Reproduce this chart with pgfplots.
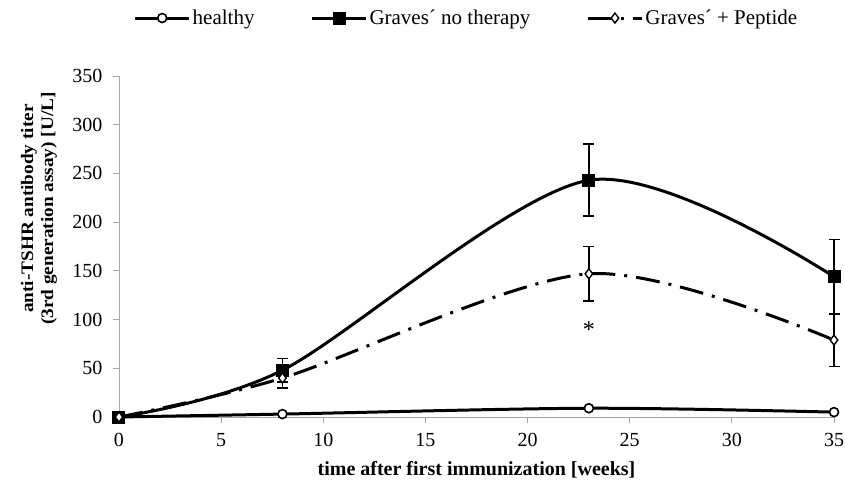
\documentclass[border=0pt]{standalone}
\usepackage{pgfplots}
\pgfplotsset{compat=1.18}
\usepackage{fontspec}
\setmainfont{Liberation Serif}
\newfontfamily\ylfont{Liberation Serif}[FakeStretch=1.1]
\begin{document}
\begin{tikzpicture}
\useasboundingbox (-119pt,-65pt) rectangle (726pt,417pt);
\begin{axis}[
  at={(0,0)}, anchor=south west,
  scale only axis, width=715pt, height=341pt,
  xmin=0, xmax=35, ymin=0, ymax=350,
  xtick={0,5,...,35}, ytick={0,50,...,350},
  axis x line*=bottom, axis y line*=left,
  axis line style={gray!70, line width=0.8pt},
  tick style={gray!70, line width=0.8pt},
  tick align=outside, major tick length=6pt,
  /pgf/number format/assume math mode=true,
  ticklabel style={font=\fontsize{20}{22}\selectfont},
  xticklabel style={yshift=-7pt},
  yticklabel style={xshift=-7pt},
  clip=false,
  xlabel={\textbf{time after first immunization [weeks]}},
  every axis x label/.style={at={(rel axis cs:0.5,0)}, yshift=-53pt, anchor=center,
    font=\fontsize{20}{22}\selectfont},
  ylabel={\textbf{anti-TSHR antibody titer}\\\textbf{(3rd generation assay) [U/L]}},
  every axis y label/.style={at={(rel axis cs:0,0.611)}, xshift=-80pt, anchor=center,
    rotate=90, align=center, font=\ylfont\fontsize{17.5}{20}\selectfont},
  legend columns=3,
  legend style={draw=none, at={(0.486,1.17)}, anchor=center,
    font=\fontsize{21}{22}\selectfont,
    /tikz/every even column/.append style={column sep=54pt}},
  legend image code/.code={\draw[mark repeat=2,mark phase=2,#1]
    plot coordinates {(0pt,0pt) (27pt,0pt) (54pt,0pt)};},
  error bars/error bar style={black, line width=1.6pt, solid},
  error bars/error mark options={rotate=90, mark size=5.5pt, line width=1.6pt},
]
\addplot[black, line width=3pt, smooth, mark=*, mark size=4.5pt,
  mark options={fill=white, line width=1.6pt, solid}]
  coordinates {(0,0) (8,3) (23,9) (35,5)};
\addlegendentry{healthy}
\addplot[black, line width=3pt, smooth, mark=square*, mark size=5pt,
  mark options={fill=black, solid},
  error bars/.cd, y dir=both, y explicit]
  coordinates {(0,0) +- (0,0) (8,48) +- (0,12) (23,243) +- (0,37) (35,144) +- (0,38)};
\addlegendentry{Graves\textasciiacute{} no therapy}
\addplot[black, line width=3pt, smooth, dash pattern=on 24pt off 9pt on 3pt off 9pt,
  mark=diamond*, mark size=5pt,
  mark options={fill=white, line width=1.4pt, solid},
  error bars/.cd, y dir=both, y explicit]
  coordinates {(0,0) +- (0,0) (8,40) +- (0,10) (23,147) +- (0,28) (35,79) +- (0,27)};
\addlegendentry{Graves\textasciiacute{} + Peptide}
\node[font=\fontsize{24}{24}\selectfont] at (axis cs:23,90) {*};
\end{axis}
\end{tikzpicture}
\end{document}
